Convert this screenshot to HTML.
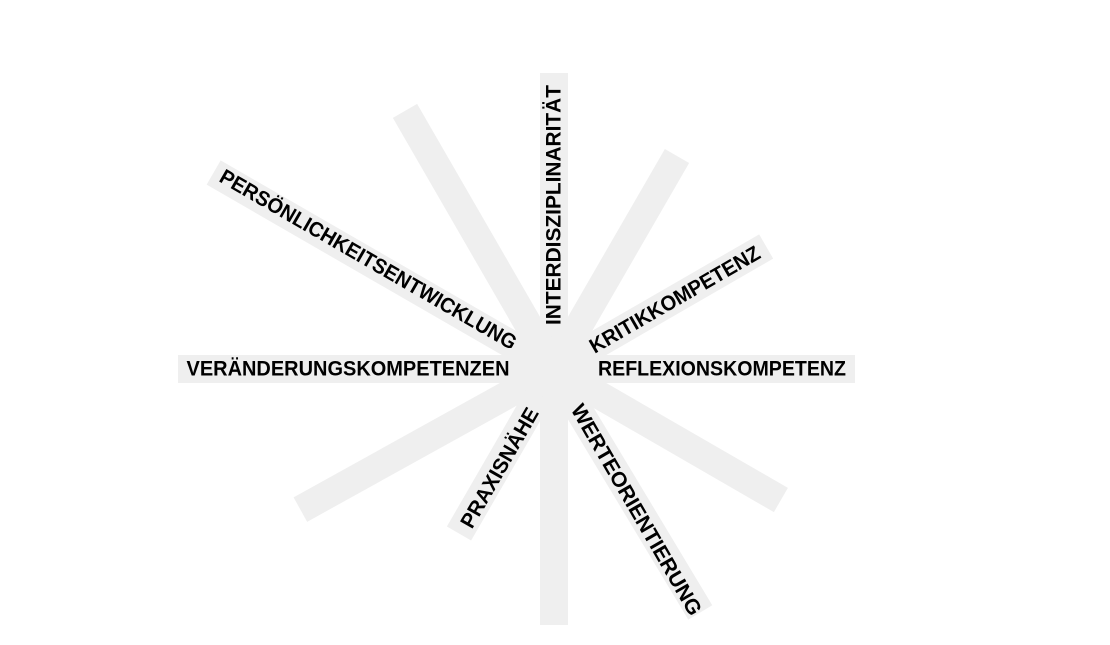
<!DOCTYPE html>
<html><head><meta charset="utf-8"><style>
html,body{margin:0;padding:0;background:#fff;}
svg{display:block;}
text{font-family:"Liberation Sans",Arial,sans-serif;font-weight:bold;font-size:21px;fill:#000;dominant-baseline:central;text-anchor:middle;}
</style></head><body>
<svg width="1110" height="645" viewBox="0 0 1110 645" xmlns="http://www.w3.org/2000/svg">
<g fill="#efefef" transform="translate(554,369)">
<rect x="0" y="-14" width="296" height="28" transform="rotate(-90)"/>
<rect x="0" y="-14" width="256" height="28" transform="rotate(90)"/>
<rect x="0" y="-14" width="376" height="28" transform="rotate(180)"/>
<rect x="0" y="-14" width="301" height="28" transform="rotate(0)"/>
<rect x="0" y="-14" width="298" height="28" transform="rotate(240)"/>
<rect x="0" y="-14" width="393" height="28" transform="rotate(210)"/>
<rect x="0" y="-14" width="246" height="28" transform="rotate(300)"/>
<rect x="0" y="-14" width="245" height="28" transform="rotate(330)"/>
<rect x="0" y="-14" width="290" height="28" transform="rotate(151)"/>
<rect x="0" y="-14" width="190" height="28" transform="rotate(120)"/>
<rect x="0" y="-14" width="284" height="28" transform="rotate(59)"/>
<rect x="0" y="-14" width="262" height="28" transform="rotate(30)"/>
<circle r="30"/>
</g>
<text x="554" y="205" transform="rotate(-90 554 205)" textLength="240" lengthAdjust="spacingAndGlyphs">INTERDISZIPLINARITÄT</text>
<text x="368" y="260" transform="rotate(30 368 260)" textLength="339" lengthAdjust="spacingAndGlyphs">PERSÖNLICHKEITSENTWICKLUNG</text>
<text x="348" y="369" textLength="323" lengthAdjust="spacingAndGlyphs">VERÄNDERUNGSKOMPETENZEN</text>
<text x="722" y="369" textLength="248" lengthAdjust="spacingAndGlyphs">REFLEXIONSKOMPETENZ</text>
<text x="675" y="300" transform="rotate(-30 675 300)" textLength="193" lengthAdjust="spacingAndGlyphs">KRITIKKOMPETENZ</text>
<text x="500" y="468" transform="rotate(-60 500 468)" textLength="135" lengthAdjust="spacingAndGlyphs">PRAXISNÄHE</text>
<text x="636" y="510" transform="rotate(60 636 510)" textLength="240" lengthAdjust="spacingAndGlyphs">WERTEORIENTIERUNG</text>
</svg>
</body></html>
